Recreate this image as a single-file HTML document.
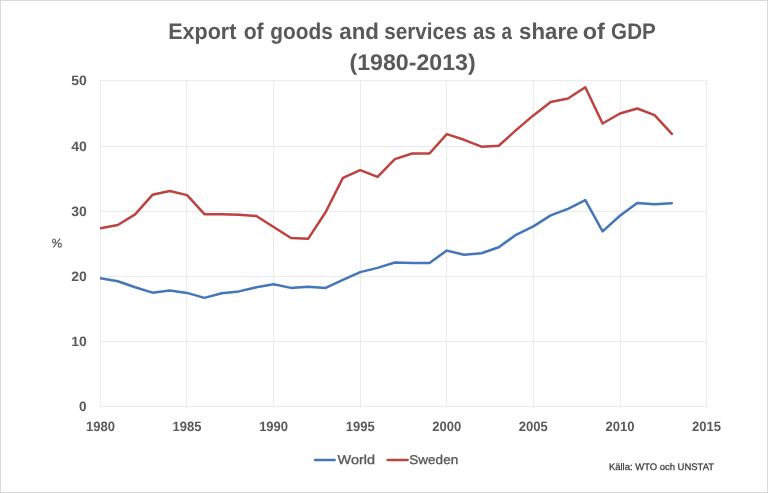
<!DOCTYPE html>
<html><head><meta charset="utf-8"><style>
html,body{margin:0;padding:0;background:#fff;}
body{width:768px;height:493px;overflow:hidden;}
svg{display:block;will-change:transform;text-rendering:geometricPrecision;font-family:"Liberation Sans",sans-serif;}
</style></head><body>
<svg width="768" height="493" viewBox="0 0 768 493">
<rect x="0.5" y="0.5" width="767" height="492" fill="#fff" stroke="#D9D9D9" stroke-width="1"/>
<line x1="100" y1="80.5" x2="707" y2="80.5" stroke="#EBEBEB" stroke-width="1"/>
<line x1="100" y1="146.5" x2="707" y2="146.5" stroke="#EBEBEB" stroke-width="1"/>
<line x1="100" y1="211.5" x2="707" y2="211.5" stroke="#EBEBEB" stroke-width="1"/>
<line x1="100" y1="276.5" x2="707" y2="276.5" stroke="#EBEBEB" stroke-width="1"/>
<line x1="100" y1="341.5" x2="707" y2="341.5" stroke="#EBEBEB" stroke-width="1"/>
<line x1="100" y1="406.5" x2="707" y2="406.5" stroke="#EBEBEB" stroke-width="1"/>
<line x1="100.50" y1="80" x2="100.50" y2="407" stroke="#EBEBEB" stroke-width="1"/>
<line x1="186.50" y1="80" x2="186.50" y2="407" stroke="#EBEBEB" stroke-width="1"/>
<line x1="273.50" y1="80" x2="273.50" y2="407" stroke="#EBEBEB" stroke-width="1"/>
<line x1="360.50" y1="80" x2="360.50" y2="407" stroke="#EBEBEB" stroke-width="1"/>
<line x1="446.50" y1="80" x2="446.50" y2="407" stroke="#EBEBEB" stroke-width="1"/>
<line x1="533.50" y1="80" x2="533.50" y2="407" stroke="#EBEBEB" stroke-width="1"/>
<line x1="620.50" y1="80" x2="620.50" y2="407" stroke="#EBEBEB" stroke-width="1"/>
<line x1="706.50" y1="80" x2="706.50" y2="407" stroke="#EBEBEB" stroke-width="1"/>
<clipPath id="pc"><rect x="100" y="0" width="607" height="493"/></clipPath>
<g clip-path="url(#pc)">
<polyline points="100.50,278.30 117.81,281.30 135.13,287.30 152.44,292.65 169.76,290.40 187.07,292.90 204.39,297.90 221.70,293.30 239.01,291.40 256.33,287.30 273.64,284.30 290.96,287.90 308.27,286.65 325.59,287.90 342.90,279.80 360.21,272.10 377.53,267.90 394.84,262.50 412.16,262.90 429.47,262.90 446.79,250.60 464.10,254.80 481.41,253.30 498.73,247.30 516.04,234.80 533.36,226.40 550.67,215.40 567.99,208.90 585.30,200.15 602.61,231.40 619.93,215.80 637.24,202.90 654.56,204.15 671.87,203.30" fill="none" stroke="#4476BA" stroke-width="2.5" stroke-linejoin="round" stroke-linecap="round"/>
<polyline points="100.50,228.15 117.81,225.00 135.13,214.40 152.44,194.80 169.76,191.00 187.07,195.15 204.39,214.15 221.70,214.15 239.01,214.80 256.33,216.00 273.64,227.00 290.96,238.00 308.27,238.65 325.59,212.30 342.90,177.90 360.21,170.15 377.53,176.90 394.84,159.15 412.16,153.50 429.47,153.50 446.79,134.15 464.10,139.80 481.41,146.65 498.73,145.80 516.04,130.15 533.36,115.40 550.67,102.00 567.99,98.50 585.30,87.30 602.61,123.50 619.93,113.50 637.24,108.50 654.56,115.15 671.87,133.90" fill="none" stroke="#BC4340" stroke-width="2.5" stroke-linejoin="round" stroke-linecap="round"/>
</g>
<text x="168.13" y="39.1" font-size="22.7" font-weight="bold" fill="#595959" textLength="68.29" lengthAdjust="spacingAndGlyphs">Export</text>
<text x="243.65" y="39.1" font-size="22.7" font-weight="bold" fill="#595959" textLength="20.05" lengthAdjust="spacingAndGlyphs">of</text>
<text x="270.31" y="39.1" font-size="22.7" font-weight="bold" fill="#595959" textLength="62.63" lengthAdjust="spacingAndGlyphs">goods</text>
<text x="339.31" y="39.1" font-size="22.7" font-weight="bold" fill="#595959" textLength="39.68" lengthAdjust="spacingAndGlyphs">and</text>
<text x="384.17" y="39.1" font-size="22.7" font-weight="bold" fill="#595959" textLength="82.91" lengthAdjust="spacingAndGlyphs">services</text>
<text x="473.12" y="39.1" font-size="22.7" font-weight="bold" fill="#595959" textLength="22.73" lengthAdjust="spacingAndGlyphs">as</text>
<text x="501.45" y="39.1" font-size="22.7" font-weight="bold" fill="#595959" textLength="10.44" lengthAdjust="spacingAndGlyphs">a</text>
<text x="519.11" y="39.1" font-size="22.7" font-weight="bold" fill="#595959" textLength="59.28" lengthAdjust="spacingAndGlyphs">share</text>
<text x="582.81" y="39.1" font-size="22.7" font-weight="bold" fill="#595959" textLength="22.14" lengthAdjust="spacingAndGlyphs">of</text>
<text x="611.11" y="39.1" font-size="22.7" font-weight="bold" fill="#595959" textLength="44.68" lengthAdjust="spacingAndGlyphs">GDP</text>
<text x="349.44" y="69.7" font-size="22.7" font-weight="bold" fill="#595959" textLength="126.2" lengthAdjust="spacingAndGlyphs">(1980-2013)</text>
<text x="71.24" y="85.20" font-size="13.5" font-weight="bold" fill="#595959" textLength="15.6" lengthAdjust="spacingAndGlyphs">50</text>
<text x="71.24" y="151.20" font-size="13.5" font-weight="bold" fill="#595959" textLength="15.6" lengthAdjust="spacingAndGlyphs">40</text>
<text x="71.24" y="216.20" font-size="13.5" font-weight="bold" fill="#595959" textLength="15.6" lengthAdjust="spacingAndGlyphs">30</text>
<text x="71.24" y="281.20" font-size="13.5" font-weight="bold" fill="#595959" textLength="15.6" lengthAdjust="spacingAndGlyphs">20</text>
<text x="71.24" y="346.20" font-size="13.5" font-weight="bold" fill="#595959" textLength="15.6" lengthAdjust="spacingAndGlyphs">10</text>
<text x="86.6" y="411.20" font-size="13.5" font-weight="bold" fill="#595959" text-anchor="end">0</text>
<text x="86.00" y="430.5" font-size="13.5" font-weight="bold" fill="#595959" textLength="29.0" lengthAdjust="spacingAndGlyphs">1980</text>
<text x="172.57" y="430.5" font-size="13.5" font-weight="bold" fill="#595959" textLength="29.0" lengthAdjust="spacingAndGlyphs">1985</text>
<text x="259.14" y="430.5" font-size="13.5" font-weight="bold" fill="#595959" textLength="29.0" lengthAdjust="spacingAndGlyphs">1990</text>
<text x="345.71" y="430.5" font-size="13.5" font-weight="bold" fill="#595959" textLength="29.0" lengthAdjust="spacingAndGlyphs">1995</text>
<text x="432.29" y="430.5" font-size="13.5" font-weight="bold" fill="#595959" textLength="29.0" lengthAdjust="spacingAndGlyphs">2000</text>
<text x="518.86" y="430.5" font-size="13.5" font-weight="bold" fill="#595959" textLength="29.0" lengthAdjust="spacingAndGlyphs">2005</text>
<text x="605.43" y="430.5" font-size="13.5" font-weight="bold" fill="#595959" textLength="29.0" lengthAdjust="spacingAndGlyphs">2010</text>
<text x="692.00" y="430.5" font-size="13.5" font-weight="bold" fill="#595959" textLength="29.0" lengthAdjust="spacingAndGlyphs">2015</text>
<g fill="none" stroke="#595959" stroke-width="1.15"><ellipse cx="54.1" cy="241.05" rx="1.5" ry="2.05"/><ellipse cx="59.8" cy="245.2" rx="1.55" ry="2.05"/><line x1="53.3" y1="247.3" x2="60.3" y2="238.5"/></g>
<line x1="314.9" y1="460" x2="334.8" y2="460" stroke="#4476BA" stroke-width="2.3" stroke-linecap="round"/>
<text x="337.62" y="464.4" font-size="12.8" fill="#595959" stroke="#595959" stroke-width="0.35" textLength="37.42" lengthAdjust="spacingAndGlyphs">World</text>
<line x1="387.5" y1="460" x2="407.8" y2="460" stroke="#BC4340" stroke-width="2.3" stroke-linecap="round"/>
<text x="409.35" y="464.4" font-size="12.8" fill="#595959" stroke="#595959" stroke-width="0.35" textLength="48.81" lengthAdjust="spacingAndGlyphs">Sweden</text>
<text x="608.91" y="470.4" font-size="9.5" fill="#3A3A3A" stroke="#3A3A3A" stroke-width="0.25" textLength="105.15" lengthAdjust="spacingAndGlyphs">Källa: WTO och UNSTAT</text>
</svg>
</body></html>
